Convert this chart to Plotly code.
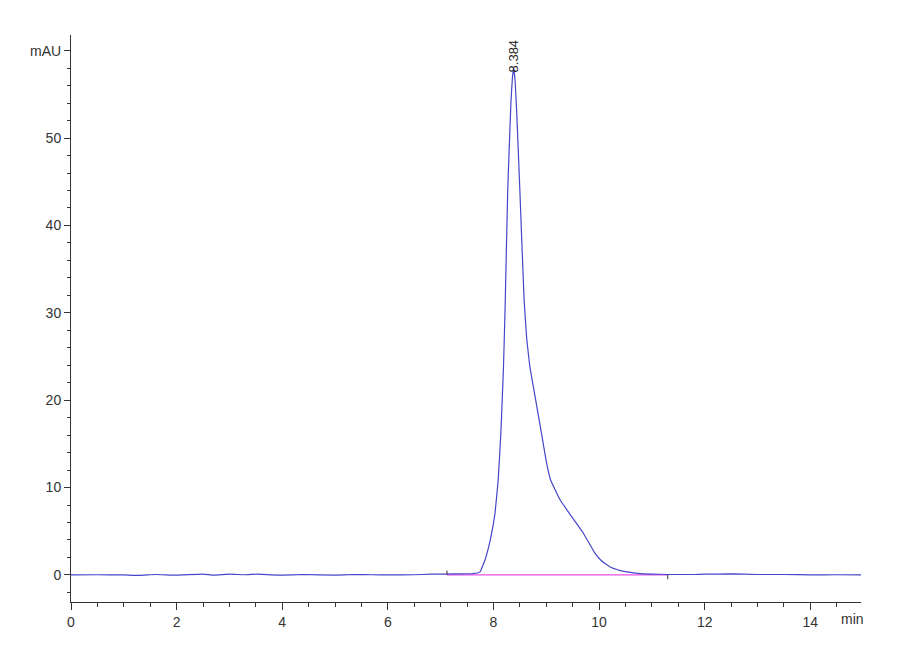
import plotly.graph_objects as go

# chromatogram signal (time in min, absorbance in mAU)
time_min = [0.0, 0.5, 1.0, 1.3, 1.6, 2.0, 2.5, 2.7, 3.0, 3.3, 3.55, 3.8, 4.0,
            4.4, 5.0, 5.35, 5.7, 6.0, 6.5, 6.8, 7.1, 7.4, 7.6, 7.7, 7.75,
            7.84, 7.94, 8.03, 8.09, 8.14, 8.19, 8.22, 8.27, 8.33, 8.36, 8.384,
            8.41, 8.44, 8.50, 8.58, 8.63, 8.69, 8.80, 8.91, 9.00, 9.08, 9.26,
            9.50, 9.70, 9.92, 10.05, 10.21, 10.40, 10.52, 10.78, 11.0,
            11.3, 11.8, 12.0, 12.5, 13.0, 13.5, 14.0, 14.5, 14.96]
signal_mau = [0.0, 0.02, 0.0, -0.05, 0.05, -0.02, 0.1, -0.02, 0.08, 0.02,
              0.1, 0.0, -0.03, 0.05, -0.02, 0.05, 0.02, 0.0, 0.02, 0.08,
              0.1, 0.12, 0.15, 0.22, 0.38, 1.7, 4.0, 7.1, 10.9, 16.2, 23.8,
              30.5, 44.0, 54.0, 57.0, 58.0, 56.5, 53.0, 44.0, 31.5, 27.0,
              23.8, 20.0, 16.2, 13.0, 10.9, 8.6, 6.5, 4.8, 2.5, 1.6, 0.9,
              0.5, 0.35, 0.15, 0.1, 0.05, 0.05, 0.08, 0.12, 0.05, 0.05, 0.0,
              0.02, 0.0]

# integration baseline and peak label
base_start = 7.12
base_end = 11.3
peak_rt = 8.384
peak_height = 58.0

y_ticks = [0, 10, 20, 30, 40, 50, 60]
y_labels = ["0", "10", "20", "30", "40", "50", "mAU"]
x_ticks = [0, 2, 4, 6, 8, 10, 12, 14]

FONT = 'Liberation Sans, Arial'

fig = go.Figure()

fig.add_trace(go.Scatter(
    x=[base_start, base_end], y=[0.0, 0.0],
    mode='lines', line=dict(color='#e84ee8', width=1.3),
    hoverinfo='skip'
))

fig.add_trace(go.Scatter(
    x=time_min, y=signal_mau,
    mode='lines', line=dict(color='#4646c8', width=1.2, shape='spline', smoothing=0.25),
    name='Signal'
))

# small markers at baseline start / end
fig.add_trace(go.Scatter(
    x=[base_start, base_start, None, base_end, base_end],
    y=[0.0, 0.5, None, 0.0, -0.5],
    mode='lines', line=dict(color='#333333', width=1),
    hoverinfo='skip'
))

fig.add_annotation(
    x=peak_rt, y=peak_height, text=f"{peak_rt:.3f}",
    textangle=-90, showarrow=False, yanchor='bottom', xanchor='center',
    yshift=-6, font=dict(family=FONT, size=13, color='#222222')
)

fig.add_annotation(
    x=14.8, y=-3.1, text="min", showarrow=False, yanchor='top',
    yshift=-7, font=dict(family=FONT, size=14, color='#333333')
)

fig.update_xaxes(
    range=[0, 14.96], tickvals=x_ticks, ticks='outside', ticklen=7,
    tickwidth=1, tickcolor='#333333', showline=True, linecolor='#333333',
    linewidth=1, showgrid=False, zeroline=False, automargin=False,
    minor=dict(dtick=0.5, tick0=0, ticks='outside', ticklen=4, tickcolor='#333333'),
    tickfont=dict(family=FONT, size=14, color='#333333')
)

fig.update_yaxes(
    range=[-3.1, 61.8], tickvals=y_ticks, ticktext=y_labels, ticks='outside',
    ticklen=6, tickwidth=1, tickcolor='#333333', showline=True,
    linecolor='#333333', linewidth=1, showgrid=False, zeroline=False,
    automargin=False,
    minor=dict(dtick=2, tick0=0, ticks='outside', ticklen=3, tickcolor='#333333'),
    tickfont=dict(family=FONT, size=14, color='#333333')
)

# page body adds an 8px offset, margins compensate for it
fig.update_layout(
    width=900, height=660,
    margin=dict(l=63, r=47, t=27, b=66),
    plot_bgcolor='white', paper_bgcolor='white',
    showlegend=False
)

fig.write_html("out.html")
